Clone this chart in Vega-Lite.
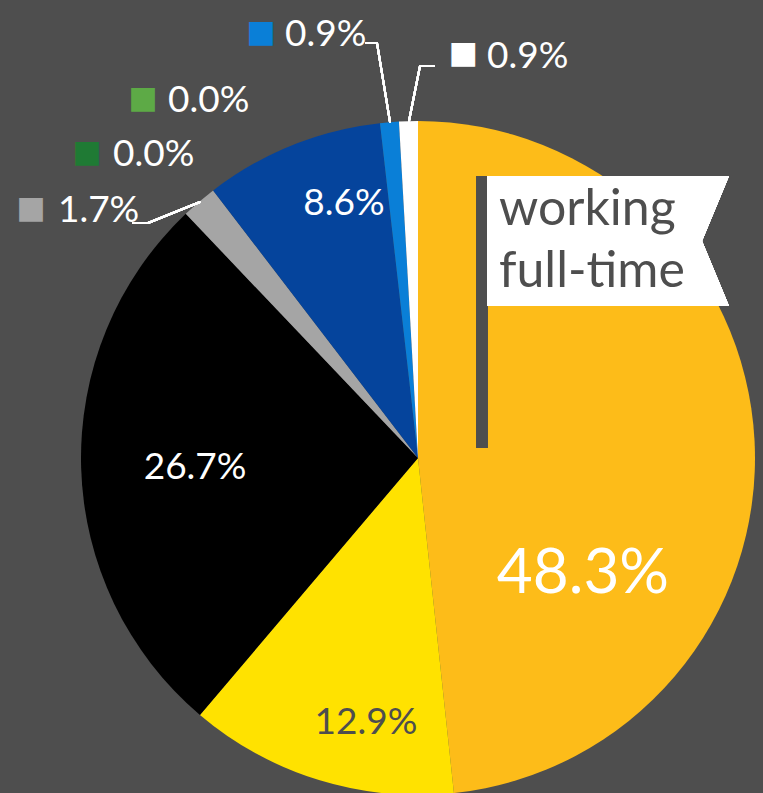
{
  "$schema": "https://vega.github.io/schema/vega-lite/v6.json",
  "width": 690,
  "height": 670,
  "padding": {"left": 73, "top": 123, "right": 0, "bottom": 0},
  "autosize": {"type": "none"},
  "background": "#4e4e4e",
  "config": {"view": {"stroke": null}},
  "data": {
    "values": [
      {"category": "working full-time", "share": 0.483, "order": 1},
      {"category": "category 2", "share": 0.129, "order": 2},
      {"category": "category 3", "share": 0.267, "order": 3},
      {"category": "category 4", "share": 0.017, "order": 4},
      {"category": "category 5", "share": 0.0, "order": 5},
      {"category": "category 6", "share": 0.0, "order": 6},
      {"category": "category 7", "share": 0.086, "order": 7},
      {"category": "category 8", "share": 0.009, "order": 8},
      {"category": "category 9", "share": 0.009, "order": 9}
    ]
  },
  "layer": [
    {
      "mark": {"type": "arc", "radius": 337, "stroke": null},
      "encoding": {
        "theta": {"field": "share", "type": "quantitative", "stack": true},
        "order": {"field": "order", "type": "quantitative"},
        "color": {
          "field": "category", "type": "nominal", "legend": null,
          "scale": {
            "domain": ["working full-time", "category 2", "category 3", "category 4", "category 5", "category 6", "category 7", "category 8", "category 9"],
            "range": ["#FDBC19", "#FFE200", "#000000", "#A5A5A5", "#1F7A34", "#5DAA46", "#05449C", "#0A7FD7", "#FFFFFF"]
          }
        }
      }
    },
    {
      "mark": {"type": "rule", "color": "#4e4e4e", "strokeWidth": 10.6, "strokeCap": "butt"},
      "encoding": {"x": {"value": 409}, "y": {"value": 53}, "y2": {"value": 325}}
    },
    {
      "mark": {"type": "point", "shape": "M-1,-0.537L1,-0.537L0.777,0L1,0.537L-1,0.537Z", "size": 58564, "filled": true, "color": "#FFFFFF", "opacity": 1, "strokeWidth": 0},
      "encoding": {"x": {"value": 535}, "y": {"value": 118}}
    },
    {
      "mark": {"type": "text", "radius": 100, "dx": -18.9, "dy": -227.7, "align": "left", "baseline": "alphabetic", "font": "Lato", "fontSize": 50, "lineBreak": " ", "lineHeight": 62, "color": "#4e4e4e"},
      "encoding": {
        "theta": {"field": "share", "type": "quantitative", "stack": true},
        "order": {"field": "order", "type": "quantitative"},
        "text": {"field": "category", "type": "nominal"},
        "opacity": {"condition": {"test": "datum.order === 1", "value": 1}, "value": 0}
      }
    },
    {
      "mark": {"type": "text", "radius": 170, "dx": -4.8, "dy": 144.1, "align": "center", "baseline": "alphabetic", "font": "Lato", "fontSize": 62, "color": "#FFFFFF"},
      "encoding": {
        "theta": {"field": "share", "type": "quantitative", "stack": true},
        "order": {"field": "order", "type": "quantitative"},
        "text": {"field": "share", "type": "quantitative", "format": ".1%"},
        "opacity": {"condition": {"test": "datum.order === 1", "value": 1}, "value": 0}
      }
    },
    {
      "mark": {"type": "text", "radius": 250, "dx": 21.5, "dy": 37.1, "align": "center", "baseline": "alphabetic", "font": "Lato", "fontSize": 37, "color": "#4e4e4e"},
      "encoding": {
        "theta": {"field": "share", "type": "quantitative", "stack": true},
        "order": {"field": "order", "type": "quantitative"},
        "text": {"field": "share", "type": "quantitative", "format": ".1%"},
        "opacity": {"condition": {"test": "datum.order === 2", "value": 1}, "value": 0}
      }
    },
    {
      "mark": {"type": "text", "radius": 223, "dx": 0, "dy": 14.7, "align": "center", "baseline": "alphabetic", "font": "Lato", "fontSize": 37, "color": "#FFFFFF"},
      "encoding": {
        "theta": {"field": "share", "type": "quantitative", "stack": true},
        "order": {"field": "order", "type": "quantitative"},
        "text": {"field": "share", "type": "quantitative", "format": ".1%"},
        "opacity": {"condition": {"test": "datum.order === 3", "value": 1}, "value": 0}
      }
    },
    {
      "mark": {"type": "text", "radius": 250, "dx": 19.5, "dy": -11.1, "align": "center", "baseline": "alphabetic", "font": "Lato", "fontSize": 37, "color": "#FFFFFF"},
      "encoding": {
        "theta": {"field": "share", "type": "quantitative", "stack": true},
        "order": {"field": "order", "type": "quantitative"},
        "text": {"field": "share", "type": "quantitative", "format": ".1%"},
        "opacity": {"condition": {"test": "datum.order === 7", "value": 1}, "value": 0}
      }
    },
    {
      "mark": {"type": "text", "radius": 367, "dx": -121.7, "dy": 43.1, "align": "left", "baseline": "alphabetic", "font": "Lato", "fontSize": 37, "color": "#FFFFFF"},
      "encoding": {
        "theta": {"field": "share", "type": "quantitative", "stack": true},
        "order": {"field": "order", "type": "quantitative"},
        "text": {"field": "share", "type": "quantitative", "format": ".1%"},
        "opacity": {"condition": {"test": "datum.order === 4", "value": 1}, "value": 0}
      }
    },
    {
      "mark": {"type": "text", "radius": 367, "dx": -81.9, "dy": -0.6, "align": "left", "baseline": "alphabetic", "font": "Lato", "fontSize": 37, "color": "#FFFFFF"},
      "encoding": {
        "theta": {"field": "share", "type": "quantitative", "stack": true},
        "order": {"field": "order", "type": "quantitative"},
        "text": {"field": "share", "type": "quantitative", "format": ".1%"},
        "opacity": {"condition": {"test": "datum.order === 5", "value": 1}, "value": 0}
      }
    },
    {
      "mark": {"type": "text", "radius": 367, "dx": -26.9, "dy": -54.6, "align": "left", "baseline": "alphabetic", "font": "Lato", "fontSize": 37, "color": "#FFFFFF"},
      "encoding": {
        "theta": {"field": "share", "type": "quantitative", "stack": true},
        "order": {"field": "order", "type": "quantitative"},
        "text": {"field": "share", "type": "quantitative", "format": ".1%"},
        "opacity": {"condition": {"test": "datum.order === 6", "value": 1}, "value": 0}
      }
    },
    {
      "mark": {"type": "text", "radius": 367, "dx": -101.9, "dy": -46.3, "align": "left", "baseline": "alphabetic", "font": "Lato", "fontSize": 37, "color": "#FFFFFF"},
      "encoding": {
        "theta": {"field": "share", "type": "quantitative", "stack": true},
        "order": {"field": "order", "type": "quantitative"},
        "text": {"field": "share", "type": "quantitative", "format": ".1%"},
        "opacity": {"condition": {"test": "datum.order === 8", "value": 1}, "value": 0}
      }
    },
    {
      "mark": {"type": "text", "radius": 367, "dx": 79.4, "dy": -23.1, "align": "left", "baseline": "alphabetic", "font": "Lato", "fontSize": 37, "color": "#FFFFFF"},
      "encoding": {
        "theta": {"field": "share", "type": "quantitative", "stack": true},
        "order": {"field": "order", "type": "quantitative"},
        "text": {"field": "share", "type": "quantitative", "format": ".1%"},
        "opacity": {"condition": {"test": "datum.order === 9", "value": 1}, "value": 0}
      }
    },
    {
      "mark": {"type": "text", "radius": 367, "dx": -148.7, "dy": 30.1, "align": "center", "baseline": "middle", "font": "DejaVu Sans", "fontSize": 31},
      "encoding": {
        "theta": {"field": "share", "type": "quantitative", "stack": true},
        "order": {"field": "order", "type": "quantitative"},
        "text": {"value": "■"},
        "color": {"field": "category", "type": "nominal", "legend": null},
        "opacity": {"condition": {"test": "datum.order === 4", "value": 1}, "value": 0}
      }
    },
    {
      "mark": {"type": "text", "radius": 367, "dx": -107.9, "dy": -13.6, "align": "center", "baseline": "middle", "font": "DejaVu Sans", "fontSize": 31},
      "encoding": {
        "theta": {"field": "share", "type": "quantitative", "stack": true},
        "order": {"field": "order", "type": "quantitative"},
        "text": {"value": "■"},
        "color": {"field": "category", "type": "nominal", "legend": null},
        "opacity": {"condition": {"test": "datum.order === 5", "value": 1}, "value": 0}
      }
    },
    {
      "mark": {"type": "text", "radius": 367, "dx": -51.9, "dy": -67.6, "align": "center", "baseline": "middle", "font": "DejaVu Sans", "fontSize": 31},
      "encoding": {
        "theta": {"field": "share", "type": "quantitative", "stack": true},
        "order": {"field": "order", "type": "quantitative"},
        "text": {"value": "■"},
        "color": {"field": "category", "type": "nominal", "legend": null},
        "opacity": {"condition": {"test": "datum.order === 6", "value": 1}, "value": 0}
      }
    },
    {
      "mark": {"type": "text", "radius": 367, "dx": -125.9, "dy": -59.3, "align": "center", "baseline": "middle", "font": "DejaVu Sans", "fontSize": 31},
      "encoding": {
        "theta": {"field": "share", "type": "quantitative", "stack": true},
        "order": {"field": "order", "type": "quantitative"},
        "text": {"value": "■"},
        "color": {"field": "category", "type": "nominal", "legend": null},
        "opacity": {"condition": {"test": "datum.order === 8", "value": 1}, "value": 0}
      }
    },
    {
      "mark": {"type": "text", "radius": 367, "dx": 55.4, "dy": -37.6, "align": "center", "baseline": "middle", "font": "DejaVu Sans", "fontSize": 31},
      "encoding": {
        "theta": {"field": "share", "type": "quantitative", "stack": true},
        "order": {"field": "order", "type": "quantitative"},
        "text": {"value": "■"},
        "color": {"field": "category", "type": "nominal", "legend": null},
        "opacity": {"condition": {"test": "datum.order === 9", "value": 1}, "value": 0}
      }
    },
    {"mark": {"type": "rule", "color": "#FFFFFF", "strokeWidth": 2}, "encoding": {"x": {"value": 59}, "y": {"value": 100}, "x2": {"value": 75}, "y2": {"value": 100}}},
    {"mark": {"type": "rule", "color": "#FFFFFF", "strokeWidth": 2, "strokeCap": "round"}, "encoding": {"x": {"value": 75}, "y": {"value": 100}, "x2": {"value": 127}, "y2": {"value": 79}}},
    {"mark": {"type": "rule", "color": "#FFFFFF", "strokeWidth": 2}, "encoding": {"x": {"value": 292}, "y": {"value": -80}, "x2": {"value": 304}, "y2": {"value": -80}}},
    {"mark": {"type": "rule", "color": "#FFFFFF", "strokeWidth": 2, "strokeCap": "round"}, "encoding": {"x": {"value": 304}, "y": {"value": -80}, "x2": {"value": 317}, "y2": {"value": -1}}},
    {"mark": {"type": "rule", "color": "#FFFFFF", "strokeWidth": 2}, "encoding": {"x": {"value": 362}, "y": {"value": -57}, "x2": {"value": 347}, "y2": {"value": -57}}},
    {"mark": {"type": "rule", "color": "#FFFFFF", "strokeWidth": 2, "strokeCap": "round"}, "encoding": {"x": {"value": 347}, "y": {"value": -57}, "x2": {"value": 336}, "y2": {"value": -2}}}
  ]
}
